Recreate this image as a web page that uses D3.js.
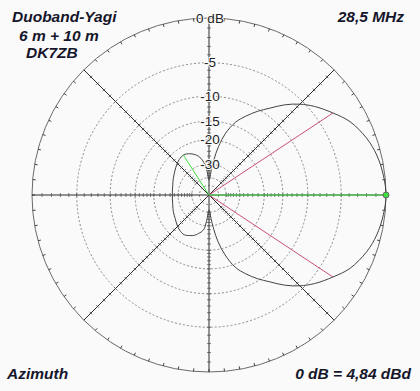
<!DOCTYPE html>
<html>
<head>
<meta charset="utf-8">
<script src="https://cdn.jsdelivr.net/npm/d3@7"></script>
<style>
  html, body { margin: 0; padding: 0; background: #fafafa; }
  svg { display: block; font-family: 'Liberation Sans', Arial, sans-serif; }
</style>
</head>
<body>
<div id="chart"></div>
<script>
// azimuth in degrees (0 = forward, to the right; positive = upper half), gain in dB
const azimuthDeg = [
  -165, -155, -145, -137, -130, -122, -115, -110, -105, -99, -96, -92, -90, -87, -85, -82, -79, -75,
  -70, -65, -60, -55, -50, -45, -40, -33.5, -27.5, -19.8, -13.4, -6.5,
  0, 6.5, 13.4, 19.8, 27.5, 33.5, 40, 45, 50, 55, 60, 65, 70, 75, 79, 82, 85, 87, 90, 92, 96, 100, 105, 110, 115,
  122, 130, 137, 145, 155, 165, 180
];
const gainDb = [
  -26.6, -25.8, -25.0, -24.0, -23.2, -22.8, -23.6, -24.3, -25.6, -27.6, -31.5, -40.0, -42.5, -39.8, -34.5, -27.8, -22.5, -18.0,
  -14.3, -12.2, -10.4, -8.8, -7.0, -5.5, -4.3, -3.0, -1.85, -0.94, -0.45, -0.15,
  0, -0.15, -0.45, -0.94, -1.85, -3.0, -4.3, -5.5, -7.0, -8.8, -10.4, -12.2, -14.2, -17.5, -22.0, -27.5, -34.0, -39.5, -42.5, -40.0, -32.0, -28.0, -25.5, -24.2, -23.3,
  -22.6, -23.0, -23.8, -24.8, -25.8, -26.6, -27.0
];

// -3 dB beam width markers and max / rear lobe markers
const halfPowerAz = [33.5, -33.5];
const halfPowerDb = [-3, -3];
const markerAz = [0, 122.7];
const markerDb = [0, -22.6];

// grid
const ringLevels = [0, -5, -10, -15, -20, -30, -40, -50];
const ringLabels = ['0 dB', '-5', '-10', '-15', '-20', '-30'];
const spokeDeg = [0, 45, 90, 135, 180, 225, 270, 315];

const titleLines = ['Duoband-Yagi', '6 m + 10 m', 'DK7ZB'];
const freqLabel = '28,5 MHz';
const planeLabel = 'Azimuth';
const refLabel = '0 dB = 4,84 dBd';

const width = 420;
const height = 391;
const cx = 209;
const cy = 195;
const R = 177;

const svg = d3.select('#chart').append('svg')
  .attr('width', width)
  .attr('height', height);

svg.append('rect')
  .attr('width', width)
  .attr('height', height)
  .attr('fill', '#fafafa');

// ARRL log-periodic scale: radius shrinks by 0.89 every 2 dB  ->  r ~ power^0.2531
const rPow = d3.scalePow().exponent(0.2531).domain([0, 1]).range([0, R]);
const r = (db) => rPow(Math.pow(10, db / 10));
const toRad = (deg) => (90 - deg) * Math.PI / 180; // d3 radial: clockwise from 12 o'clock

const g = svg.append('g').attr('transform', `translate(${cx},${cy})`);

// dashed rings
g.selectAll('circle.ring')
  .data(ringLevels.slice(1))
  .enter()
  .append('circle')
  .attr('class', 'ring')
  .attr('r', (d) => r(d))
  .attr('fill', 'none')
  .attr('stroke', '#8a8a8a')
  .attr('stroke-dasharray', '2,2');

// outer ring
g.append('circle')
  .attr('r', R)
  .attr('fill', 'none')
  .attr('stroke', '#6a6a6a');

// outer ring ticks every 5 degrees
g.selectAll('line.otick')
  .data(d3.range(0, 360, 5))
  .enter()
  .append('line')
  .attr('x1', (d) => Math.cos(d * Math.PI / 180) * R)
  .attr('y1', (d) => -Math.sin(d * Math.PI / 180) * R)
  .attr('x2', (d) => Math.cos(d * Math.PI / 180) * (R - 3))
  .attr('y2', (d) => -Math.sin(d * Math.PI / 180) * (R - 3))
  .attr('stroke', '#444');

// spokes
g.selectAll('line.spoke')
  .data(spokeDeg)
  .enter()
  .append('line')
  .attr('x1', 0)
  .attr('y1', 0)
  .attr('x2', (d) => Math.cos(d * Math.PI / 180) * R)
  .attr('y2', (d) => -Math.sin(d * Math.PI / 180) * R)
  .attr('stroke', '#2a2a2a');

// cross ticks on spokes, every dB down to -20, then every 2 dB
const spokeTicks = d3.range(-1, -20, -1).concat(d3.range(-20, -41, -2));
spokeDeg.forEach((deg) => {
  const a = deg * Math.PI / 180;
  const ux = Math.cos(a), uy = -Math.sin(a);
  g.append('g').selectAll('line')
    .data(spokeTicks)
    .enter()
    .append('line')
    .attr('x1', (d) => ux * r(d) - uy * 1.8)
    .attr('y1', (d) => uy * r(d) + ux * 1.8)
    .attr('x2', (d) => ux * r(d) + uy * 1.8)
    .attr('y2', (d) => uy * r(d) - ux * 1.8)
    .attr('stroke', '#555')
    .attr('stroke-width', 0.9);
});

// pattern
const pattern = azimuthDeg.map((a, i) => [toRad(a), r(gainDb[i])]);
g.append('path')
  .datum(pattern)
  .attr('d', d3.lineRadial().curve(d3.curveCatmullRomClosed.alpha(0.5)))
  .attr('fill', 'none')
  .attr('stroke', '#444');

// -3 dB lines
g.selectAll('line.hp')
  .data(halfPowerAz)
  .enter()
  .append('line')
  .attr('x1', 0)
  .attr('y1', 0)
  .attr('x2', (d, i) => Math.cos(d * Math.PI / 180) * r(halfPowerDb[i]))
  .attr('y2', (d, i) => -Math.sin(d * Math.PI / 180) * r(halfPowerDb[i]))
  .attr('stroke', '#c8507a');

// max / rear lobe lines
g.selectAll('line.mk')
  .data(markerAz)
  .enter()
  .append('line')
  .attr('x1', 0)
  .attr('y1', 0)
  .attr('x2', (d, i) => Math.cos(d * Math.PI / 180) * r(markerDb[i]))
  .attr('y2', (d, i) => -Math.sin(d * Math.PI / 180) * r(markerDb[i]))
  .attr('stroke', '#3ee03e');

g.append('circle')
  .attr('cx', Math.cos(markerAz[0] * Math.PI / 180) * r(markerDb[0]))
  .attr('cy', -Math.sin(markerAz[0] * Math.PI / 180) * r(markerDb[0]))
  .attr('r', 3)
  .attr('fill', '#3ee03e')
  .attr('stroke', '#666');

// ring labels
g.selectAll('text.rl')
  .data(ringLabels)
  .enter()
  .append('text')
  .attr('x', 1)
  .attr('y', (d, i) => -r(ringLevels[i]) + 4.5)
  .attr('text-anchor', 'middle')
  .attr('font-size', 13.5)
  .attr('fill', '#222')
  .attr('stroke', '#fafafa')
  .attr('stroke-width', 2)
  .attr('paint-order', 'stroke')
  .text((d) => d);

// corner texts
const corner = svg.append('g')
  .attr('font-size', 15.5)
  .attr('font-weight', 'bold')
  .attr('font-style', 'italic')
  .attr('fill', '#16162a');

corner.selectAll('text.title')
  .data(titleLines)
  .enter()
  .append('text')
  .attr('x', (d, i) => [12, 19, 26][i])
  .attr('y', (d, i) => [22, 40.5, 57.5][i])
  .text((d) => d);

corner.append('text').attr('x', 404).attr('y', 22.3).attr('text-anchor', 'end').text(freqLabel);
corner.append('text').attr('x', 7).attr('y', 379).text(planeLabel);
corner.append('text').attr('x', 411).attr('y', 379).attr('text-anchor', 'end').text(refLabel);
</script>
</body>
</html>
